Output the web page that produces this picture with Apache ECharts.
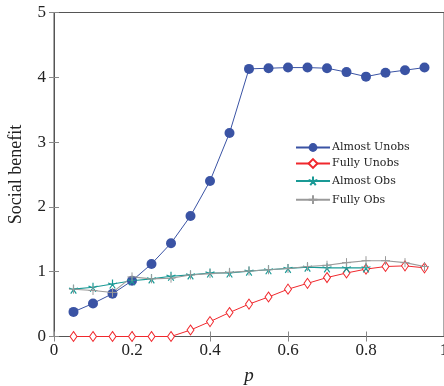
<!DOCTYPE html>
<html><head><meta charset="utf-8">
<script src="https://cdn.jsdelivr.net/npm/echarts@6/dist/echarts.min.js"></script>
<style>html,body{margin:0;padding:0;background:#fff}#c{width:444px;height:386px}</style>
</head><body><div id="c"></div>
<script>
const pValues = [0.05,0.10,0.15,0.20,0.25,0.30,0.35,0.40,0.45,0.50,0.55,0.60,0.65,0.70,0.75,0.80,0.85,0.90,0.95];
const almostUnobs = [0.38,0.51,0.66,0.86,1.12,1.44,1.86,2.40,3.14,4.13,4.14,4.15,4.15,4.14,4.08,4.01,4.07,4.11,4.15];
const fullyUnobs  = [0,0,0,0,0,0,0.10,0.23,0.37,0.50,0.61,0.73,0.82,0.91,0.98,1.04,1.08,1.09,1.06];
const almostObs   = [0.73,0.76,0.81,0.86,0.89,0.93,0.95,0.98,0.98,1.01,1.03,1.05,1.07,1.06,1.06,1.06,null,null,null];
const fullyObs    = [0.73,0.71,0.68,0.92,0.89,0.90,0.95,0.97,0.99,1.01,1.03,1.05,1.08,1.10,1.14,1.17,1.17,1.14,1.08];
const seriesNames = ['Almost Unobs','Fully Unobs','Almost Obs','Fully Obs'];
const xTicks = [0,0.2,0.4,0.6,0.8,1];
const yTicks = [0,1,2,3,4,5];

const pairs = arr => pValues.map((p,i)=>[p,arr[i]]).filter(d=>d[1]!==null);
const starPath = 'path://M10,10L10,0M10,10L19.51,6.91M10,10L15.88,18.09M10,10L4.12,18.09M10,10L0.49,6.91';
const plusPath = 'path://M5,0L5,10M0,5L10,5';
const serif = 'Liberation Serif';
const frame = '#555';

const chart = echarts.init(document.getElementById('c'), null, {renderer:'canvas'});
const baseX = {type:'value', min:xTicks[0], max:xTicks[xTicks.length-1], interval:0.2};
const baseY = {type:'value', min:yTicks[0], max:yTicks[yTicks.length-1], interval:1};
chart.setOption({
  animation:false,
  grid:{left:54, right:0, top:12.5, bottom:49.5, show:true, borderColor:frame, borderWidth:1,
        containLabel:false, outerBoundsMode:'none'},
  legend:{
    data:seriesNames, orient:'vertical', left:290, top:137,
    itemWidth:34, itemHeight:11, itemGap:5,
    textStyle:{fontFamily:'DejaVu Serif', fontSize:11, color:'#222', padding:[0,0,0,-3]},
    backgroundColor:'rgba(255,255,255,0)'
  },
  xAxis:[
    Object.assign({}, baseX, {position:'bottom', name:'p', nameLocation:'middle', nameGap:30,
      nameTextStyle:{fontFamily:serif, fontStyle:'italic', fontSize:19, color:'#222'},
      axisLine:{show:true, lineStyle:{color:frame}},
      axisTick:{show:true, inside:true, length:5, lineStyle:{color:'#888'}},
      axisLabel:{fontFamily:serif, fontSize:17, color:'#222', margin:6,
        formatter:v=>String(+v.toFixed(1))},
      splitLine:{show:false}}),
    Object.assign({}, baseX, {position:'top',
      axisLine:{show:true, lineStyle:{color:frame}},
      axisTick:{show:true, inside:true, length:5, lineStyle:{color:'#888'}},
      axisLabel:{show:false}, splitLine:{show:false}})
  ],
  yAxis:[
    Object.assign({}, baseY, {position:'left', name:'Social benefit', nameLocation:'middle', nameGap:29,
      nameTextStyle:{fontFamily:serif, fontSize:18, color:'#222'},
      axisLine:{show:true, lineStyle:{color:frame}},
      axisTick:{show:true, inside:true, length:5, lineStyle:{color:'#888'}},
      axisLabel:{fontFamily:serif, fontSize:17, color:'#222', margin:8},
      splitLine:{show:false}}),
    Object.assign({}, baseY, {position:'right',
      axisLine:{show:true, lineStyle:{color:frame}},
      axisTick:{show:true, inside:true, length:5, lineStyle:{color:'#888'}},
      axisLabel:{show:false}, splitLine:{show:false}})
  ],
  series:[
    {name:seriesNames[0], type:'line', data:pairs(almostUnobs), symbol:'circle', symbolSize:10,
      lineStyle:{color:'#3a53a4', width:1}, itemStyle:{color:'#3a53a4'}},
    {name:seriesNames[1], type:'line', data:pairs(fullyUnobs), symbol:'diamond', symbolSize:[7,10],
      lineStyle:{color:'#f0282d', width:1}, itemStyle:{color:'#fff', borderColor:'#f0282d', borderWidth:1}},
    {name:seriesNames[2], type:'line', data:pairs(almostObs), symbol:starPath, symbolSize:9,
      lineStyle:{color:'#1a9a96', width:1.2}, itemStyle:{color:'none', borderColor:'#1a9a96', borderWidth:1.2}},
    {name:seriesNames[3], type:'line', data:pairs(fullyObs), symbol:plusPath, symbolSize:9,
      lineStyle:{color:'#9a9a9a', width:1.1}, itemStyle:{color:'none', borderColor:'#9a9a9a', borderWidth:1}}
  ]
});
</script></body></html>
